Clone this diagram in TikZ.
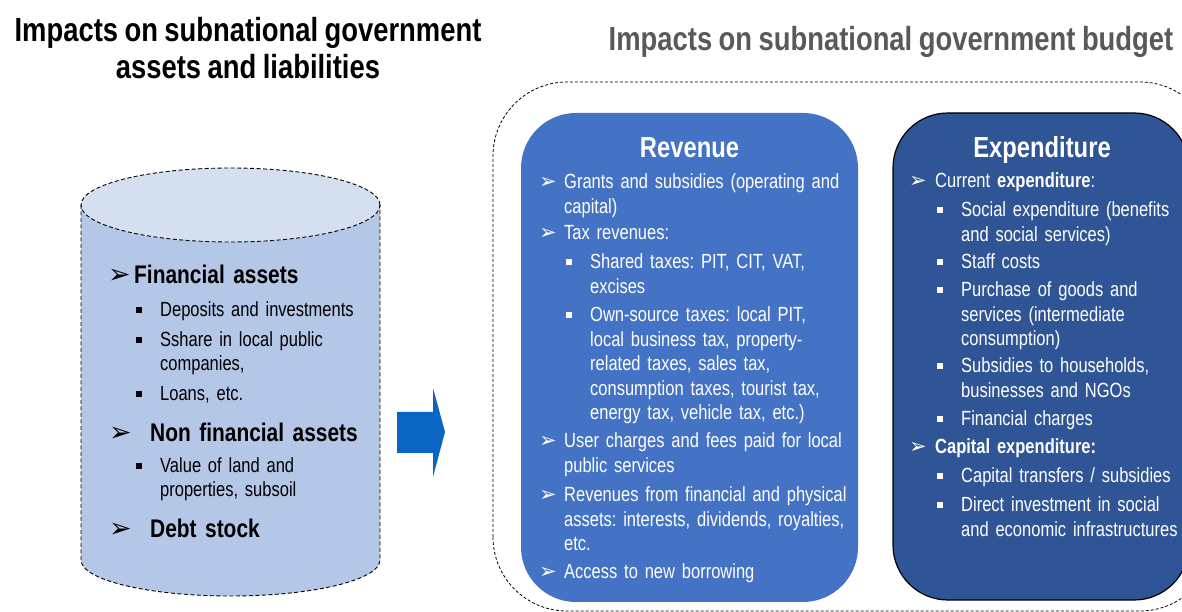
\documentclass[tikz,border=0pt]{standalone}
\usepackage{fontspec}
\setmainfont{Liberation Sans}
\newfontfamily\narrowsans[FakeStretch=0.82,WordSpace=0.85]{Liberation Sans}
\newfontfamily\itemsans[FakeStretch=0.805,WordSpace=0.8]{Liberation Sans}
\newfontfamily\symsans{DejaVu Sans}
\frenchspacing

\definecolor{cylbody}{HTML}{B4C7E7}
\definecolor{cyltop}{HTML}{D4DFF0}
\definecolor{arrowblue}{HTML}{0A64C2}
\definecolor{revblue}{HTML}{4472C4}
\definecolor{expblue}{HTML}{2F5597}
\definecolor{titlegray}{HTML}{595959}

% bullets hanging to the left of the text start
\newcommand\arrowbul[2]{\llap{\makebox[#1][l]{\symsans\fontsize{#2}{#2}\selectfont ➢}}}
\newcommand\sqbul{\llap{\makebox[24pt][l]{\raisebox{4pt}{\rule{5.5pt}{5.5pt}}}}}

\tikzset{
  lbl/.style={inner sep=0pt, anchor=base west, text width=340pt, align=left},
  itemtext/.style={lbl, font=\itemsans\frenchspacing\fontsize{20.5}{24.5}\selectfont},
  cyltext/.style={itemtext, text=black, font=\itemsans\frenchspacing\fontsize{20.5}{24}\selectfont},
  cylhead/.style={lbl, text=black, font=\narrowsans\bfseries\fontsize{25.5}{30}\selectfont},
  boxtext/.style={itemtext, text=white},
  boxhead/.style={inner sep=0pt, anchor=base, text=white, font=\narrowsans\bfseries\fontsize{29}{34}\selectfont},
  maintitle/.style={inner sep=0pt, anchor=base, align=center, font=\narrowsans\bfseries\fontsize{33.4}{37}\selectfont},
  cyldash/.style={draw=black, line width=0.9pt, dash pattern=on 4pt off 2.5pt},
  framedash/.style={draw=black, line width=0.8pt, dash pattern=on 3pt off 2pt},
  revbox/.style={rectangle, fill=revblue, rounded corners=55pt, inner sep=0pt},
  expbox/.style={rectangle, fill=expblue, draw=black, line width=1.2pt, rounded corners=55pt, inner sep=0pt},
}

\begin{document}
\begin{tikzpicture}[x=1pt,y=1pt]
\useasboundingbox (0,0) rectangle (1182,612);
\clip (0,0) rectangle (1182,612);

% titles (a two-line centred node sits on the baseline of its last line)
\node[maintitle, text=black] (titleL) at (248,533) {Impacts on subnational government\\assets and liabilities};
\node[maintitle, text=titlegray] (titleR) at (891,561) {Impacts on subnational government budget};

% cylinder of assets and liabilities
\fill[cylbody] (81,407) -- (81,52) arc[start angle=180,end angle=360,x radius=149.5,y radius=36] -- (380,407) -- cycle;
\fill[cyltop] (230.5,407) ellipse[x radius=149.5,y radius=37];
\draw[cyldash] (81,407) -- (81,52) arc[start angle=180,end angle=360,x radius=149.5,y radius=36] -- (380,407);
\draw[cyldash] (230.5,407) ellipse[x radius=149.5,y radius=37];

\node[cylhead] (finA) at (134,328) {\arrowbul{26pt}{27}Financial assets};
\node[cyltext] (depo) at (160,295.3) {\sqbul Deposits and investments};
\node[cyltext] (shares) at (160,265.3) {\sqbul Sshare in local public\\companies,};
\node[cyltext] (loans) at (160,211.3) {\sqbul Loans, etc.};
\node[cylhead] (nonfinA) at (150,170.3) {\arrowbul{41pt}{27}Non financial assets};
\node[cyltext] (land) at (160,139) {\sqbul Value of land and\\properties, subsoil};
\node[cylhead] (debt) at (150,74) {\arrowbul{41pt}{27}Debt stock};

% block arrow
\fill[arrowblue] (397,200) -- (433,200) -- (433,224) -- (445,180) -- (433,135) -- (433,159) -- (397,159) -- cycle;

% budget frame
\draw[framedash, rounded corners=74pt] (493,1) rectangle (1214,530);

% revenue panel
\node[revbox, minimum width=337pt, minimum height=489pt] (rev) at (689.5,254.5) {};
\node[boxhead] (revT) at (689.5,454) {Revenue};
\node[boxtext] (r1) at (564,423) {\arrowbul{25pt}{21}Grants and subsidies (operating and\\capital)};
\node[boxtext] (r2) at (564,372) {\arrowbul{25pt}{21}Tax revenues:};
\node[boxtext] (r21) at (590,343) {\sqbul Shared taxes: PIT, CIT, VAT,\\excises};
\node[boxtext] (r22) at (590,290) {\sqbul Own-source taxes: local PIT,\\local business tax, property-\\related taxes, sales tax,\\consumption taxes, tourist tax,\\energy tax, vehicle tax, etc.)};
\node[boxtext] (r3) at (564,164) {\arrowbul{25pt}{21}User charges and fees paid for local\\public services};
\node[boxtext] (r4) at (564,110) {\arrowbul{25pt}{21}Revenues from financial and physical\\assets: interests, dividends, royalties,\\etc.};
\node[boxtext] (r5) at (564,33) {\arrowbul{25pt}{21}Access to new borrowing};

% expenditure panel
\node[expbox, minimum width=296pt, minimum height=487pt] (exp) at (1041,255.5) {};
\node[boxhead] (expT) at (1042,454) {Expenditure};
\node[boxtext] (e1) at (935,424) {\arrowbul{26pt}{21}Current \textbf{expenditure}:};
\node[boxtext] (e11) at (961,395.3) {\sqbul Social expenditure (benefits\\and social services)};
\node[boxtext] (e12) at (961,343) {\sqbul Staff costs};
\node[boxtext] (e13) at (961,315) {\sqbul Purchase of goods and\\services (intermediate\\consumption)};
\node[boxtext] (e14) at (961,239) {\sqbul Subsidies to households,\\businesses and NGOs};
\node[boxtext] (e15) at (961,186) {\sqbul Financial charges};
\node[boxtext] (e2) at (935,158) {\arrowbul{26pt}{21}\textbf{Capital expenditure:}};
\node[boxtext] (e21) at (961,129) {\sqbul Capital transfers / subsidies};
\node[boxtext] (e22) at (961,100) {\sqbul Direct investment in social\\and economic infrastructures};
\end{tikzpicture}
\end{document}
